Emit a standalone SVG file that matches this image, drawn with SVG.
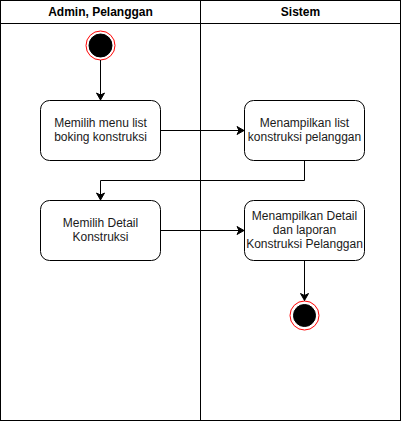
<svg xmlns="http://www.w3.org/2000/svg" width="401" height="421" viewBox="0 0 401 421">
<defs>
<style>
.lane{fill:#fff;stroke:#000;stroke-width:1}
.hdr{font-family:"Liberation Sans",Arial,sans-serif;font-size:12px;font-weight:bold;fill:#000;text-anchor:middle}
.box{fill:#fff;stroke:#000;stroke-width:1}
.lbl{font-family:"Liberation Sans",Arial,sans-serif;font-size:12px;fill:#1a1a1a;text-anchor:middle}
.edge{fill:none;stroke:#000;stroke-width:1}
</style>
<marker id="arr" markerWidth="10" markerHeight="10" refX="8" refY="5" orient="auto" markerUnits="userSpaceOnUse">
<path d="M1,1 L8,5 L1,9 L3,5 Z" fill="#000" stroke="#000" stroke-width="1"/>
</marker>
</defs>
<g id="pool">
<rect class="lane" x="0.5" y="0.5" width="400" height="420"/>
<line class="lane" x1="0.5" y1="23.5" x2="400.5" y2="23.5"/>
<line class="lane" x1="200.5" y1="0.5" x2="200.5" y2="420.5"/>
<text class="hdr" x="100.5" y="16">Admin, Pelanggan</text>
<text class="hdr" x="300.5" y="16">Sistem</text>
</g>
<g id="start">
<circle cx="100.5" cy="45.5" r="14.5" fill="#fff" stroke="#ff0000" stroke-width="1"/>
<circle cx="100.5" cy="45.5" r="11.5" fill="#000" stroke="#000" stroke-width="1"/>
</g>
<g id="n1">
<rect class="box" x="40.5" y="100.5" width="120" height="60" rx="9" ry="9"/>
<text class="lbl" x="100.5" y="127">Memilih menu list</text>
<text class="lbl" x="100.5" y="141">boking konstruksi</text>
</g>
<g id="n2">
<rect class="box" x="244.5" y="100.5" width="120" height="60" rx="9" ry="9"/>
<text class="lbl" x="304.5" y="127">Menampilkan list</text>
<text class="lbl" x="304.5" y="141">konstruksi pelanggan</text>
</g>
<g id="n3">
<rect class="box" x="40.5" y="200.5" width="120" height="60" rx="9" ry="9"/>
<text class="lbl" x="100.5" y="227">Memilih Detail</text>
<text class="lbl" x="100.5" y="241">Konstruksi</text>
</g>
<g id="n4">
<rect class="box" x="244.5" y="200.5" width="120" height="60" rx="9" ry="9"/>
<text class="lbl" x="304.5" y="220">Menampilkan Detail</text>
<text class="lbl" x="304.5" y="234">dan laporan</text>
<text class="lbl" x="304.5" y="248">Konstruksi Pelanggan</text>
</g>
<g id="end">
<circle cx="304.5" cy="315.5" r="14.5" fill="#fff" stroke="#ff0000" stroke-width="1"/>
<circle cx="304.5" cy="315.5" r="11" fill="#000" stroke="#000" stroke-width="1"/>
</g>
<g id="connectors">
<path class="edge" d="M100.5,60 L100.5,100" marker-end="url(#arr)"/>
<path class="edge" d="M160.5,130.5 L244,130.5" marker-end="url(#arr)"/>
<path class="edge" d="M304.5,160.5 L304.5,180.5 L100.5,180.5 L100.5,200" marker-end="url(#arr)"/>
<path class="edge" d="M160.5,230.5 L244,230.5" marker-end="url(#arr)"/>
<path class="edge" d="M304.5,260.5 L304.5,300.5" marker-end="url(#arr)"/>
</g>
</svg>
